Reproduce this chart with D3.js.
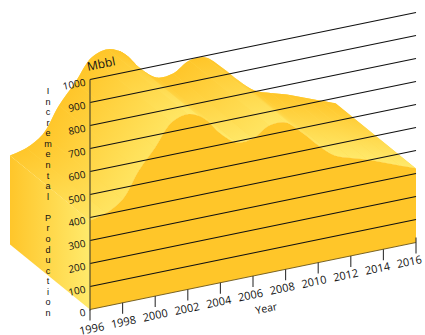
<!DOCTYPE html>
<html>
<head>
<meta charset="utf-8">
<script src="https://cdn.jsdelivr.net/npm/d3@7/dist/d3.min.js"></script>
<style>
html,body{margin:0;padding:0;background:#fff;}
svg{display:block;}
text{font-family:"Open Sans",sans-serif;fill:#111;}
</style>
</head>
<body>
<svg id="chart" width="425" height="335"></svg>
<script>
const years = [1996,1997,1998,1999,2000,2001,2002,2003,2004,2005,2006,2007,2008,2009,2010,2011,2012,2013,2014,2015,2016];
const production = [387,405,449,561,646,740,762,729,649,595,598,640,638,580,510,451,426,405,377,349,322];
const yearTicks = [1996,1998,2000,2002,2004,2006,2008,2010,2012,2014,2016];
const valueTicks = [100,200,300,400,500,600,700,800,900,1000];
const valueLabels = [0,100,200,300,400,500,600,700,800,900,1000];
const axisTitle = "Incremental Production";

// Oblique projection: the floor rises to the right and depth runs up and to the left.
const originX = 90, originY = 309.5, rise = 0.2055;
const depthX = -80, depthY = -65;
const tilt = -Math.atan(rise) * 180 / Math.PI;

const x = d3.scaleLinear().domain([1996,2016]).range([originX,416]);
const h = d3.scaleLinear().domain([0,1000]).range([0,230]);
const project = (yr,v) => [x(yr), originY - rise*(x(yr)-originX) - h(v)];

const svg = d3.select("#chart");
const defs = svg.append("defs");

const front = years.map((yr,i) => project(yr,production[i]));
const back = front.map(p => [p[0]+depthX, p[1]+depthY]);
const curveLine = d3.line().curve(d3.curveCatmullRom.alpha(0.5));

const deep = "#ffc62a", pale = "#ffea6c";

// Left end wall
const wallGrad = defs.append("linearGradient").attr("id","wall")
  .attr("gradientUnits","userSpaceOnUse")
  .attr("x1",back[0][0]).attr("y1",0).attr("x2",front[0][0]).attr("y2",0);
wallGrad.append("stop").attr("offset",0).attr("stop-color",deep);
wallGrad.append("stop").attr("offset",1).attr("stop-color",pale);
const floorBack = project(1996,0);
svg.append("path")
  .attr("d", d3.line()([back[0], front[0], floorBack, [floorBack[0]+depthX, floorBack[1]+depthY]]) + "Z")
  .attr("fill","url(#wall)");

// Top surface of the extrusion, clipped to the smooth ridge outlines
const ridgePath = curveLine(front) + "L" + curveLine(back.slice().reverse()).slice(1) + "Z";
defs.append("clipPath").attr("id","ridge").append("path").attr("d",ridgePath);
svg.append("path").attr("d",ridgePath).attr("fill","#ffd84e");

const strips = svg.append("g").attr("clip-path","url(#ridge)");
d3.range(years.length-1).forEach(i => {
  const f0 = front[i], f1 = front[i+1], b0 = back[i], b1 = back[i+1];
  const cx = f1[0]-f0[0], cy = f1[1]-f0[1];
  const nx = -cy, ny = cx;
  const dot = (-depthX*nx + -depthY*ny)/(nx*nx+ny*ny);
  const usable = Math.abs(dot) > 0.6;
  const mx = (b0[0]+b1[0])/2, my = (b0[1]+b1[1])/2;
  const ex = usable ? nx*dot : -depthX, ey = usable ? ny*dot : -depthY;
  // Facets turned further from the light stop a little short of the palest tone
  const slope = cy/cx;
  const tone = d3.interpolateRgb(deep,pale)(0.82 + 0.18*Math.min(1,Math.max(0,(slope+0.9)/1.2)));
  const grad = defs.append("linearGradient").attr("id","facet"+i)
    .attr("gradientUnits","userSpaceOnUse")
    .attr("x1",mx).attr("y1",my).attr("x2",mx+ex).attr("y2",my+ey);
  grad.append("stop").attr("offset",0).attr("stop-color",deep);
  grad.append("stop").attr("offset",1).attr("stop-color",tone);
  const e = 0.6;
  strips.append("path")
    .attr("d", d3.line()([
      [f0[0]-depthX*e, f0[1]-depthY*e],
      [f1[0]-depthX*e, f1[1]-depthY*e],
      [b1[0]+depthX*e, b1[1]+depthY*e],
      [b0[0]+depthX*e, b0[1]+depthY*e]
    ]) + "Z")
    .attr("fill","url(#facet"+i+")");
});

// Front face
const floor = years.map(yr => project(yr,0));
svg.append("path")
  .attr("d", curveLine(front) + "L" + d3.line()(floor.slice().reverse()).slice(1) + "Z")
  .attr("fill","#ffc629");

// Value gridlines across the front plane
svg.append("g").selectAll("line").data(valueTicks).join("line")
  .attr("x1",d => project(1996,d)[0]).attr("y1",d => project(1996,d)[1])
  .attr("x2",d => project(2016,d)[0]).attr("y2",d => project(2016,d)[1])
  .attr("stroke","#111").attr("stroke-width",1.25);

// Floor edge and value axis
svg.append("line")
  .attr("x1",floorBack[0]).attr("y1",floorBack[1])
  .attr("x2",project(2016,0)[0]).attr("y2",project(2016,0)[1])
  .attr("stroke","#6a5518").attr("stroke-width",0.9);
svg.append("line")
  .attr("x1",originX).attr("y1",project(1996,0)[1]+1)
  .attr("x2",originX).attr("y2",project(1996,1000)[1])
  .attr("stroke","#504a2c").attr("stroke-width",1.2);

// Year axis: each tick sits on the rising floor edge, labels sit slightly closer together
const yearAxis = svg.append("g").call(
  d3.axisBottom(x).tickValues(yearTicks).tickFormat(d3.format("d")).tickSize(10).tickPadding(0)
);
yearAxis.select(".domain").remove();
yearAxis.selectAll(".tick").attr("transform",d => {
  const p = project(d,0);
  return `translate(${p[0]},${p[1]})`;
});
yearAxis.selectAll(".tick line").attr("stroke","#333").attr("stroke-width",1.1)
  .attr("y1",d => d === 2016 ? -5 : 0).attr("y2",11);
yearAxis.selectAll(".tick text")
  .attr("y",null).attr("dy",null)
  .attr("text-anchor","middle")
  .attr("transform",d => `translate(${2.5 - 8.5*(d-1996)/20},${23}) rotate(${tilt})`)
  .style("font-family",'"Open Sans",sans-serif')
  .style("font-size","11px").attr("fill","#111");

// Value labels
svg.append("g").selectAll("text").data(valueLabels).join("text")
  .attr("transform",d => {
    const p = project(1996,d);
    return `translate(${p[0]-4},${p[1]+6}) rotate(${tilt})`;
  })
  .attr("text-anchor","end").style("font-size","10px").text(d => d);

// Titles
svg.append("text").attr("transform",`translate(88,71) rotate(${tilt})`)
  .style("font-size","12px").text("Mbbl");
svg.append("text").attr("transform",`translate(267,312) rotate(${tilt})`)
  .attr("text-anchor","middle").style("font-size","10.5px").text("Year");

// Stacked title, one letter per row at a fixed pitch
svg.append("text").attr("text-anchor","middle").attr("opacity",0.999)
  .style("font-family",'"Liberation Sans",sans-serif').style("font-size","9.1px")
  .selectAll("tspan").data(axisTitle.split("")).join("tspan")
  .attr("x",48).attr("y",(d,i) => 94 + i*10.57).text(d => d);
</script>
</body>
</html>
